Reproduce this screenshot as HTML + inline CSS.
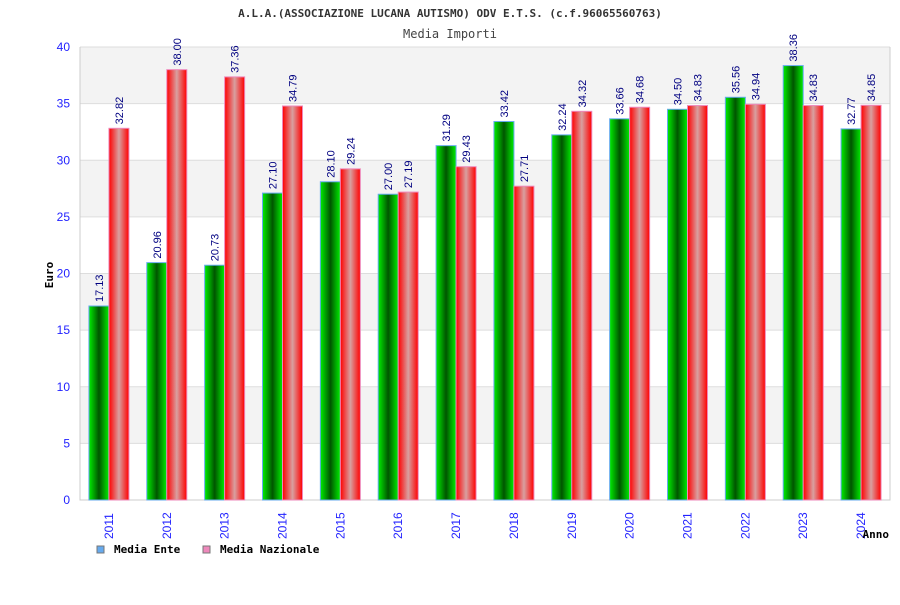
<!DOCTYPE html>
<html><head><meta charset="utf-8"><style>
body{margin:0;background:#fff;}
svg text{font-family:"DejaVu Sans Mono","Liberation Mono",monospace;}
svg text.sans{font-family:"Liberation Sans","DejaVu Sans",sans-serif;}
</style></head><body>
<svg id="chart" width="900" height="600" xmlns="http://www.w3.org/2000/svg">
<defs>
<linearGradient id="gG" x1="0" x2="1" y1="0" y2="0"><stop offset="0" stop-color="#00ee00"/><stop offset="0.5" stop-color="#005500"/><stop offset="1" stop-color="#00ee00"/></linearGradient>
<linearGradient id="gR" x1="0" x2="1" y1="0" y2="0"><stop offset="0" stop-color="#ff0000"/><stop offset="0.5" stop-color="#d8a0a0"/><stop offset="1" stop-color="#ff0000"/></linearGradient>
</defs>
<text x="450" y="17" text-anchor="middle" font-size="11" font-weight="bold" fill="#333">A.L.A.(ASSOCIAZIONE LUCANA AUTISMO) ODV E.T.S. (c.f.96065560763)</text>
<text x="450" y="38" text-anchor="middle" font-size="12" fill="#444">Media Importi</text>
<g id="plot"></g>
<text transform="translate(53,275) rotate(-90)" text-anchor="middle" font-size="11" font-weight="bold" fill="#000">Euro</text>
<text x="889" y="538" text-anchor="end" font-size="11" font-weight="bold" fill="#000">Anno</text>
<g><rect x="97" y="546" width="7" height="7" fill="#66aaee" stroke="#777"/><text x="114" y="553" font-size="11" font-weight="bold">Media Ente</text></g>
<g><rect x="203" y="546" width="7" height="7" fill="#ee88bb" stroke="#777"/><text x="220" y="553" font-size="11" font-weight="bold">Media Nazionale</text></g>
</svg>
<script>
const categories=["2011","2012","2013","2014","2015","2016","2017","2018","2019","2020","2021","2022","2023","2024"];
const ente=[17.13,20.96,20.73,27.10,28.10,27.00,31.29,33.42,32.24,33.66,34.50,35.56,38.36,32.77];
const nazionale=[32.82,38.00,37.36,34.79,29.24,27.19,29.43,27.71,34.32,34.68,34.83,34.94,34.83,34.85];
const yTicks=[0,5,10,15,20,25,30,35,40];
const L=80,R=890,T=47,B=500,YMAX=40;
const y=v=>B-(v/YMAX)*(B-T);
const bw=(R-L)/categories.length;
const x=i=>L+bw*i+bw/2;
const NS="http://www.w3.org/2000/svg";
const g=document.getElementById('plot');
function mk(t,a){const e=document.createElementNS(NS,t);for(const k in a)e.setAttribute(k,a[k]);g.appendChild(e);return e;}
for(let i=0;i<yTicks.length-1;i++){
  if(i%2===1){const r=mk('rect',{x:L,y:y(yTicks[i+1]),width:R-L,height:y(yTicks[i])-y(yTicks[i+1]),fill:'#f3f3f3'});
  
  }
}
yTicks.forEach(v=>{
  const l=mk('line',{x1:L,x2:R,y1:y(v),y2:y(v),stroke:'#dddddd'});
  
  
  const t=mk('text',{x:L-10,y:y(v)+4,'text-anchor':'end','font-size':12,fill:'#2222ff',class:'sans'});
  t.textContent=v;
  
  
});
const ax=mk('path',{d:`M${L} ${T}V${B}H${R}V${T}`,fill:'none',stroke:'#cccccc'});


function bar(i,v,off,fill,stroke,name){
  const bx=x(i)+off;
  const r=mk('rect',{x:bx,y:y(v),width:20,height:B-y(v),fill:fill,stroke:stroke,'stroke-width':1});
  
  
  const t=mk('text',{transform:`translate(${bx+14},${y(v)-4}) rotate(-90)`,'font-size':11,fill:'#000080',class:'sans'});
  t.textContent=v.toFixed(2);
  
  
}
categories.forEach((c,i)=>{
  bar(i,ente[i],-20,'url(#gG)','#66aaee','bar-ente-'+c);
  bar(i,nazionale[i],0,'url(#gR)','#ee88bb','bar-nazionale-'+c);
  const t=mk('text',{transform:`translate(${x(i)+4},${B+39}) rotate(-90)`,'font-size':12,fill:'#2222ff',class:'sans'});
  t.textContent=c;
  
  
});
</script>
</body></html>
